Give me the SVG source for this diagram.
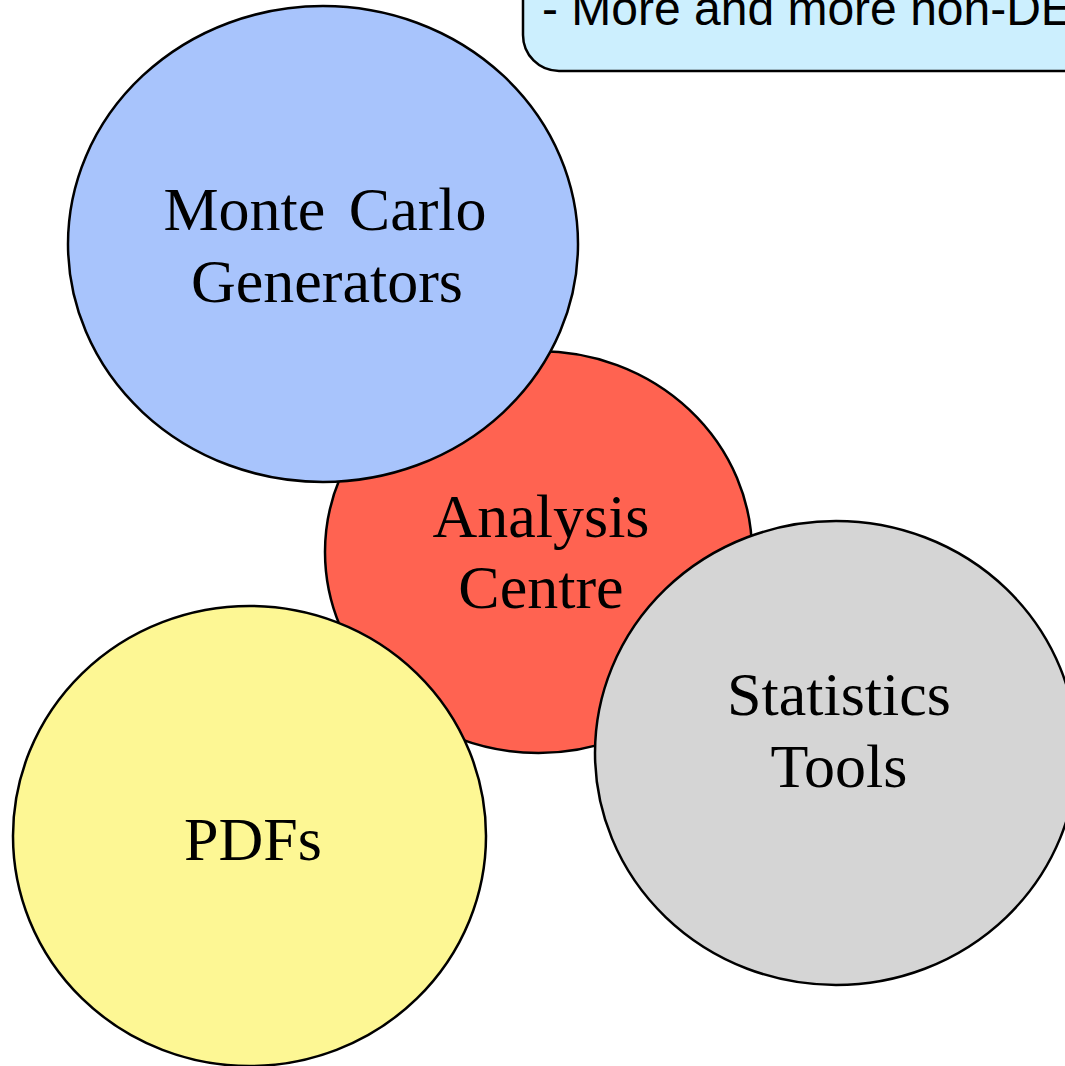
<svg xmlns="http://www.w3.org/2000/svg" width="1065" height="1066" viewBox="0 0 1065 1066">
<style>
.shape{stroke:#000;stroke-width:2.5}
.lbl{font-family:"Liberation Serif","Times New Roman",serif;font-size:62px;fill:#000;text-anchor:middle}
.note{font-family:"Liberation Sans",Arial,sans-serif;font-size:48px;fill:#000}
</style>
<rect width="1065" height="1066" fill="#fff"/>
<g id="note">
<rect class="shape" x="523" y="-60" width="620" height="131" rx="36" ry="36" fill="#CCEFFE"/>
<text class="note" x="542" y="25">- More and more non-DE</text>
</g>
<g id="connectors"></g>
<g id="analysis">
<ellipse class="shape" cx="538.5" cy="552" rx="213.5" ry="201" fill="#FF6351"/>
<text class="lbl" x="541" y="537">Analysis</text>
<text class="lbl" x="541" y="608">Centre</text>
</g>
<g id="montecarlo">
<ellipse class="shape" cx="323" cy="244" rx="255" ry="238" fill="#A8C4FC"/>
<text class="lbl" x="325" y="230" word-spacing="8">Monte Carlo</text>
<text class="lbl" x="327" y="302">Generators</text>
</g>
<g id="statistics">
<ellipse class="shape" cx="836" cy="753" rx="241" ry="232" fill="#D5D5D5"/>
<text class="lbl" x="839" y="715">Statistics</text>
<text class="lbl" x="839" y="787">Tools</text>
</g>
<g id="pdfs">
<ellipse class="shape" cx="249.5" cy="836" rx="236.5" ry="230" fill="#FDF794"/>
<text class="lbl" x="253" y="860">PDFs</text>
</g>
</svg>
